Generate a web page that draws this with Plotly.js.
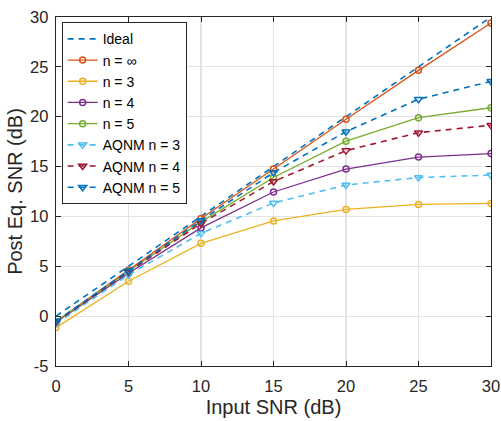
<!DOCTYPE html>
<html><head><meta charset="utf-8">
<script src="https://cdn.plot.ly/plotly-3.0.1.min.js"></script>
<style>html,body{margin:0;padding:0;background:#fff}#chart{width:501px;height:421px}</style>
</head><body><div id="chart"></div>
<script>
const snr = [0, 5, 10, 15, 20, 25, 30];
const ideal = [0, 5, 10, 15, 20, 25, 30];
const nInf = [-0.55, 4.6, 9.8, 14.75, 19.75, 24.65, 29.4];
const n3 = [-1.15, 3.5, 7.3, 9.55, 10.7, 11.2, 11.3];
const n4 = [-0.6, 4.3, 8.85, 12.45, 14.75, 15.95, 16.3];
const n5 = [-0.55, 4.5, 9.45, 13.9, 17.55, 19.9, 20.9];
const aqnm3 = [-0.75, 4.15, 8.3, 11.35, 13.15, 13.9, 14.15];
const aqnm4 = [-0.6, 4.45, 9.3, 13.5, 16.6, 18.4, 19.15];
const aqnm5 = [-0.5, 4.55, 9.6, 14.4, 18.5, 21.75, 23.55];
const names = ['Ideal', 'n = \u221e', 'n = 3', 'n = 4', 'n = 5', 'AQNM n = 3', 'AQNM n = 4', 'AQNM n = 5'];
const colors = ['#0072BD', '#D95319', '#EDB120', '#7E2F8E', '#77AC30', '#4DBEEE', '#A2142F', '#0072BD'];
const xTicks = [0, 5, 10, 15, 20, 25, 30];
const yTicks = [-5, 0, 5, 10, 15, 20, 25, 30];

const series = [ideal, nInf, n3, n4, n5, aqnm3, aqnm4, aqnm5];
const traces = series.map((ys, i) => {
  const isIdeal = i === 0;
  const isAqnm = i >= 5;
  return {
    x: snr, y: ys, name: names[i], type: 'scatter',
    mode: isIdeal ? 'lines' : 'lines+markers',
    line: {color: colors[i], width: isIdeal || isAqnm ? 1.6 : 1.3, dash: (isIdeal || isAqnm) ? '6px,5px' : 'solid'},
    marker: {symbol: isAqnm ? 'triangle-down-open' : 'circle-open', size: isAqnm ? 7 : 6, color: colors[i], line: {width: 1.5, color: colors[i]}}
  };
});

const font = 'Liberation Sans, Arial, sans-serif';
const axisCommon = {
  showline: true, mirror: 'ticks', linecolor: '#262626', linewidth: 1.3,
  ticks: 'inside', ticklen: 5, tickcolor: '#262626', tickwidth: 1,
  showgrid: true, gridcolor: '#e3e3e3', gridwidth: 1.2, zeroline: false,
  tickfont: {family: font, size: 16.5, color: '#262626'}
};

const layout = {
  width: 501, height: 421,
  margin: {l: 56, r: 10, t: 17, b: 55},
  paper_bgcolor: '#fff', plot_bgcolor: '#fff',
  showlegend: true,
  xaxis: Object.assign({}, axisCommon, {range: [0, 30], tickvals: xTicks, ticktext: xTicks.map(String), ticklabelstandoff: 5,
    title: {text: 'Input SNR (dB)', font: {family: font, size: 20, color: '#262626'}, standoff: 6}}),
  yaxis: Object.assign({}, axisCommon, {range: [-5, 30], tickvals: yTicks, ticktext: yTicks.map(String), ticklabelstandoff: 3,
    title: {text: 'Post Eq. SNR (dB)', font: {family: font, size: 20, color: '#262626'}, standoff: 2}}),
  legend: {x: 0.013, y: 0.985, xanchor: 'left', yanchor: 'top',
    bgcolor: '#fff', bordercolor: '#262626', borderwidth: 1,
    font: {family: font, size: 14, color: '#000'},
    tracegroupgap: 0, itemwidth: 30}
};
Plotly.newPlot('chart', traces, layout, {staticPlot: true, displayModeBar: false});
</script></body></html>
